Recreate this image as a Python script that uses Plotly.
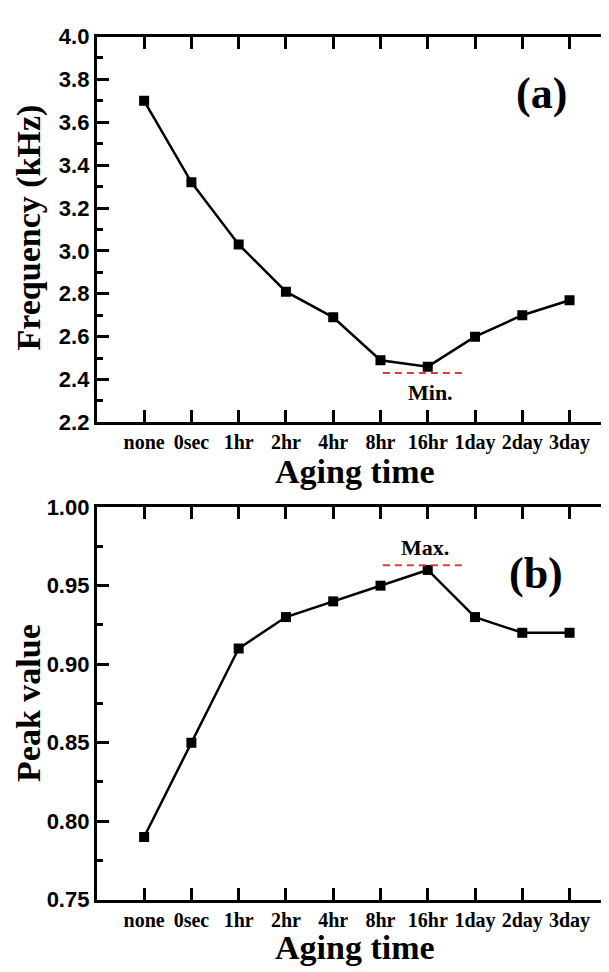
import plotly.graph_objects as go

categories = ["none", "0sec", "1hr", "2hr", "4hr", "8hr", "16hr", "1day", "2day", "3day"]
frequency_khz = [3.70, 3.32, 3.03, 2.81, 2.69, 2.49, 2.46, 2.60, 2.70, 2.77]
peak_value = [0.79, 0.85, 0.91, 0.93, 0.94, 0.95, 0.96, 0.93, 0.92, 0.92]
freq_ticks = [2.2, 2.4, 2.6, 2.8, 3.0, 3.2, 3.4, 3.6, 3.8, 4.0]
peak_ticks = [0.75, 0.80, 0.85, 0.90, 0.95, 1.00]
min_line_x = [5.05, 6.8]
min_line_y = [2.43, 2.43]
max_line_x = [5.05, 6.8]
max_line_y = [0.963, 0.963]

xi = list(range(len(categories)))
W, H = 609, 972

def py(px):
    return 1 - px / H

SERIF = "Liberation Serif"
SANS = "Liberation Sans"
RED = "#e53935"

fig = go.Figure()
fig.add_trace(go.Scatter(x=xi, y=frequency_khz, mode="lines+markers",
                         line=dict(color="black", width=2.5),
                         marker=dict(symbol="square", size=10, color="black"),
                         xaxis="x", yaxis="y", showlegend=False))
fig.add_trace(go.Scatter(x=min_line_x, y=min_line_y, mode="lines",
                         line=dict(color=RED, width=2, dash="7px,5px"),
                         xaxis="x", yaxis="y", showlegend=False))
fig.add_trace(go.Scatter(x=xi, y=peak_value, mode="lines+markers",
                         line=dict(color="black", width=2.5),
                         marker=dict(symbol="square", size=10, color="black"),
                         xaxis="x2", yaxis="y2", showlegend=False))
fig.add_trace(go.Scatter(x=max_line_x, y=max_line_y, mode="lines",
                         line=dict(color=RED, width=2, dash="7px,5px"),
                         xaxis="x2", yaxis="y2", showlegend=False))

xdom = [89 / W, 607 / W]
xcommon = dict(domain=xdom, range=[-1.0, 9.94], tickmode="array", tickvals=xi,
               ticktext=categories, ticks="inside", ticklen=12, tickwidth=3,
               tickcolor="black", showline=True, linewidth=3, linecolor="black",
               mirror="ticks", showgrid=False, zeroline=False,
               tickfont=dict(family=SERIF, size=20, color="black", weight="bold"))
ycommon = dict(ticks="inside", ticklen=12, tickwidth=3, tickcolor="black",
               showline=True, linewidth=3, linecolor="black", mirror="ticks",
               showgrid=False, zeroline=False,
               tickfont=dict(family=SANS, size=22, color="black", weight="bold"))

fig.update_layout(
    width=W, height=H, margin=dict(l=0, r=0, t=0, b=0),
    paper_bgcolor="white", plot_bgcolor="white",
    xaxis=dict(anchor="y", **xcommon),
    xaxis2=dict(anchor="y2", **xcommon),
    yaxis=dict(anchor="x", domain=[py(413), py(17)], range=[2.2, 4.0],
               tickmode="array", tickvals=freq_ticks,
               ticktext=[f"{v:.1f}" for v in freq_ticks],
               minor=dict(ticks="inside", ticklen=6, tickwidth=3, tickcolor="black",
                          tickmode="linear", tick0=2.3, dtick=0.2),
               **ycommon),
    yaxis2=dict(anchor="x2", domain=[py(903), py(500)], range=[0.75, 1.00],
                tickmode="array", tickvals=peak_ticks,
                ticktext=[f"{v:.2f}" for v in peak_ticks],
                minor=dict(ticks="inside", ticklen=6, tickwidth=3, tickcolor="black",
                           tickmode="linear", tick0=0.775, dtick=0.05),
                **ycommon),
)

tfont = dict(family=SERIF, size=34, color="black", weight="bold")
xc = (xdom[0] + xdom[1]) / 2
anns = [
    dict(text="Aging time", x=xc, y=py(463), xref="paper", yref="paper",
         showarrow=False, font=tfont, xanchor="center", yanchor="middle"),
    dict(text="Aging time", x=xc, y=py(952), xref="paper", yref="paper",
         showarrow=False, font=tfont, xanchor="center", yanchor="middle"),
    dict(text="Frequency (kHz)", x=21 / W, y=py(213), xref="paper", yref="paper",
         showarrow=False, font=tfont, textangle=-90, xanchor="center", yanchor="middle"),
    dict(text="Peak value", x=21 / W, y=py(701), xref="paper", yref="paper",
         showarrow=False, font=tfont, textangle=-90, xanchor="center", yanchor="middle"),
    dict(text="(a)", x=8.4, y=3.736, xref="x", yref="y", showarrow=False,
         font=dict(family=SERIF, size=44, color="black", weight="bold")),
    dict(text="(b)", x=8.29, y=0.958, xref="x2", yref="y2", showarrow=False,
         font=dict(family=SERIF, size=44, color="black", weight="bold")),
    dict(text="Min.", x=6.05, y=2.34, xref="x", yref="y", showarrow=False,
         font=dict(family=SERIF, size=22, color="black", weight="bold")),
    dict(text="Max.", x=5.95, y=0.974, xref="x2", yref="y2", showarrow=False,
         font=dict(family=SERIF, size=22, color="black", weight="bold")),
]
fig.update_layout(annotations=anns)

fig.write_html("out.html")
